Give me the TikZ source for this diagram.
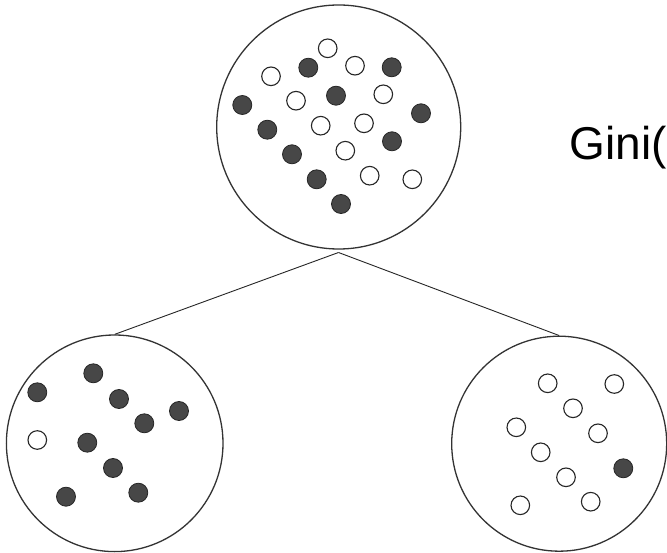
\documentclass[tikz,border=0pt]{standalone}
\usepackage{fontspec}
\setmainfont{Liberation Sans}
\begin{document}
\begin{tikzpicture}[x=1pt,y=-1pt,
  ring/.style={circle, draw=black!80, line width=1.3pt, inner sep=0pt},
  branch/.style={draw=black!85, line width=0.9pt},
  dotfilled/.style={fill=black!72, draw=black!85, line width=0.8pt},
  dotopen/.style={fill=white, draw=black!85, line width=1.1pt},
  label/.style={inner sep=0pt, anchor=base west, font=\fontsize{46}{52}\selectfont}]

% canvas
\fill[white] (0,0) rectangle (667,553);
\useasboundingbox (0,0) rectangle (667,553);

% the three sample sets
\node[ring, minimum size=244pt] (top) at (338.7,127) {};
\node[ring, minimum size=216.6pt] (left) at (114.7,443.3) {};
\node[ring, minimum size=215pt] (right) at (559.2,443.7) {};

% split into two branches
\coordinate (fork) at (338.5,252.5);
\draw[branch] (fork) -- (left.north);
\draw[branch] (fork) -- (right.north);

% parent set: dark and light samples
\foreach \x/\y in {308.3/67.7, 391.7/67.3, 242.3/105, 336/95.7, 421/113.3,
                   267.3/129.7, 392/141.3, 292/154.3, 316.7/179.3, 341/204}
  \draw[dotfilled] (\x,\y) circle (9.5);
\foreach \x/\y in {327.7/48.3, 355/65.7, 271/76.3, 296/100.7, 383.3/94.3,
                   320.7/125.7, 364/123.3, 345.3/150.7, 369.7/175.7, 412.3/179.3}
  \draw[dotopen] (\x,\y) circle (9.3);

% left child
\foreach \x/\y in {93.3/373.3, 37.3/392.3, 119/399, 179/411, 144.3/423.3,
                   87.3/442.7, 113/468, 66/496.7, 138.3/492.7}
  \draw[dotfilled] (\x,\y) circle (9.5);
\draw[dotopen] (37.3,440) circle (9.3);

% right child
\foreach \x/\y in {547.7/383.3, 614.3/384, 573/408.3, 516.3/427.3, 598/433.3,
                   540.7/452.3, 566/477.3, 520.3/505.3, 590.7/501.7}
  \draw[dotopen] (\x,\y) circle (9.3);
\draw[dotfilled] (623.3,468.3) circle (9.5);

% impurity formula
\node[label] (gini) at (569.5,159.3) {Gini(};
\end{tikzpicture}
\end{document}
